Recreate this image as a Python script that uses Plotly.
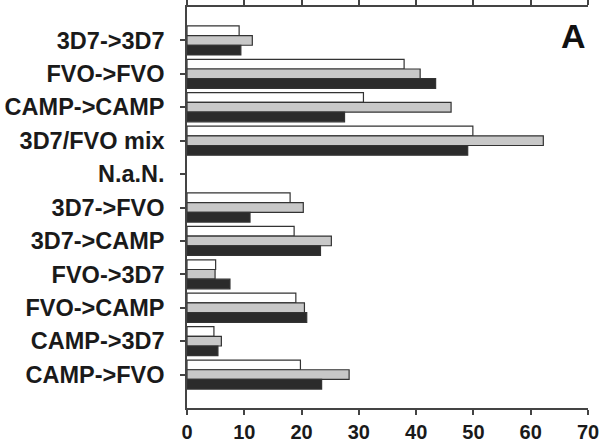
import plotly.graph_objects as go

categories = ["3D7->3D7", "FVO->FVO", "CAMP->CAMP", "3D7/FVO mix", "N.a.N.",
              "3D7->FVO", "3D7->CAMP", "FVO->3D7", "FVO->CAMP", "CAMP->3D7", "CAMP->FVO"]
series_white = [9.1, 37.9, 30.8, 49.9, None, 18.0, 18.7, 5.0, 19.0, 4.7, 19.8]
series_gray = [11.4, 40.7, 46.1, 62.2, None, 20.3, 25.2, 4.9, 20.5, 6.0, 28.3]
series_black = [9.4, 43.4, 27.5, 49.0, None, 11.0, 23.3, 7.5, 20.9, 5.4, 23.5]
x_ticks = [0, 10, 20, 30, 40, 50, 60, 70]

FONT = "Liberation Sans, Arial, sans-serif"

fig = go.Figure()
for vals, col in [(series_white, "#ffffff"), (series_gray, "#c8c8c8"), (series_black, "#2b2b2b")]:
    fig.add_trace(go.Bar(
        y=categories, x=vals, orientation="h",
        marker=dict(color=col, line=dict(color="#333333", width=1.2)),
        showlegend=False,
    ))

fig.update_layout(
    width=600, height=445,
    margin=dict(l=187, r=12, t=7, b=37, autoexpand=False),
    paper_bgcolor="white", plot_bgcolor="white",
    barmode="group", bargap=0.13, bargroupgap=0,
    font=dict(family=FONT, color="#1a1a1a"),
    xaxis=dict(
        range=[0, 70], tickvals=x_ticks, showgrid=False, zeroline=False,
        showline=True, linecolor="#444444", linewidth=1.5,
        ticks="outside", ticklen=5, tickwidth=1.5, tickcolor="#444444",
        mirror="allticks",
        tickfont=dict(size=20, family=FONT, weight="bold"),
    ),
    yaxis=dict(
        type="category", categoryarray=categories, range=[11, -1],
        showgrid=False, zeroline=False,
        showline=True, linecolor="#444444", linewidth=1.5,
        ticks="outside", ticklen=5, tickwidth=1.5, tickcolor="#444444",
        ticklabelstandoff=11,
        tickfont=dict(size=23.5, family=FONT, weight="bold"),
    ),
    annotations=[dict(
        x=0.963, y=0.928, xref="paper", yref="paper", text="A", showarrow=False,
        xanchor="center", yanchor="middle",
        font=dict(size=34, family=FONT, weight="bold", color="#111111"),
    )],
)

fig.write_html("out.html", config={"displayModeBar": False},
               post_script="document.body.style.margin='0';")
